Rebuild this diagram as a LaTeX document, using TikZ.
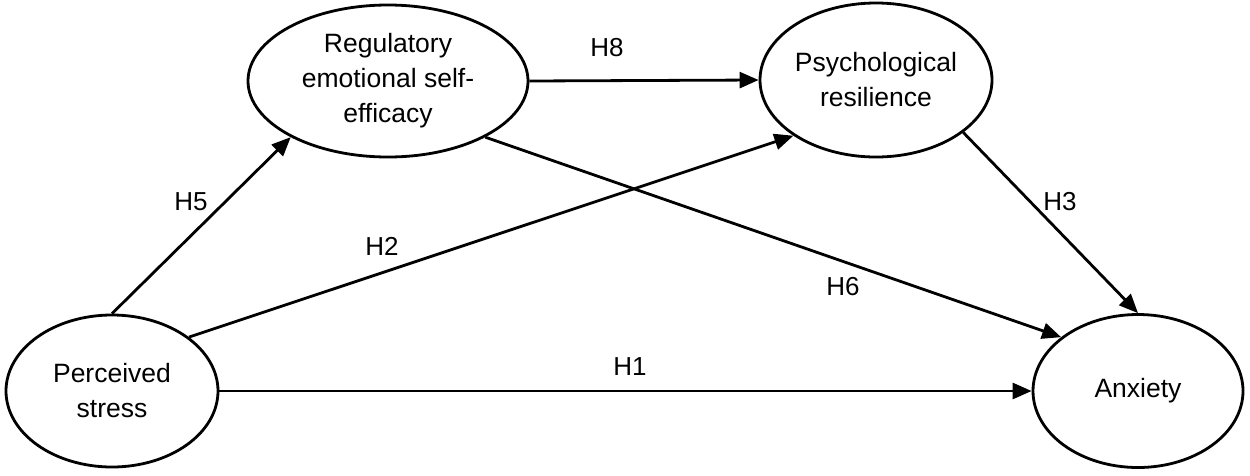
\documentclass[tikz,border=0pt]{standalone}
\usepackage{fontspec}
\setmainfont{Liberation Sans}
\usetikzlibrary{shapes.geometric,arrows.meta}
\begin{document}
\begin{tikzpicture}[x=1pt,y=-1pt,
  lat/.style={draw, ellipse, line width=2.8pt, inner sep=0pt, align=center,
    font=\fontsize{26.5}{35}\selectfont},
  arr/.style={line width=2.8pt, -{Triangle[length=19pt,width=16pt]}},
  lab/.style={font=\fontsize{26}{30}\selectfont, inner sep=0pt}]
\useasboundingbox (0,0) rectangle (1250,475);
\node[lat, minimum width=212pt, minimum height=152pt] (ps) at (112,391) {Perceived\\stress};
\node[lat, minimum width=280pt, minimum height=152pt] (reg) at (388,81) {Regulatory\\emotional self-\\efficacy};
\node[lat, minimum width=232pt, minimum height=154pt] (psy) at (876,80) {Psychological\\resilience};
\node[lat, minimum width=210pt, minimum height=153pt] (anx) at (1138,391) {Anxiety};
\draw[arr] (ps.north) -- (reg.210);
\draw[arr] (ps.35) -- (psy.214);
\draw[arr] (reg.east) -- (psy.west);
\draw[arr] (reg.-30) -- (anx.145);
\draw[arr] (psy.-31) -- (anx.north);
\draw[arr] (ps.east) -- (anx.west);
\node[lab] (h8) at (607,48) {H8};
\node[lab] (h5) at (191,202) {H5};
\node[lab] (h2) at (382,246) {H2};
\node[lab] (h6) at (843,287) {H6};
\node[lab] (h3) at (1060,202) {H3};
\node[lab] (h1) at (630,367) {H1};
\end{tikzpicture}
\end{document}
